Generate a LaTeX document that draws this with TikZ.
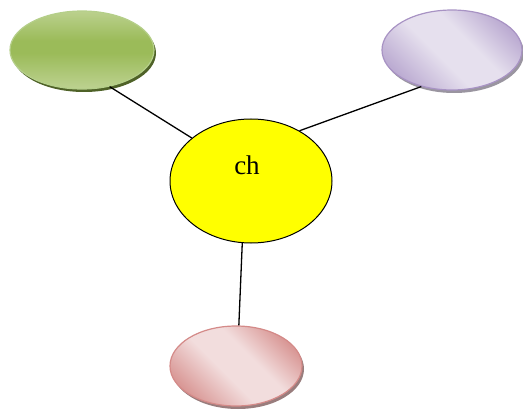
\documentclass[tikz,border=0pt]{standalone}
\usepackage{fontspec}
\setmainfont{Liberation Serif}
\usetikzlibrary{shapes.geometric,shadows}
\definecolor{gA}{HTML}{C3D69B}
\definecolor{gB}{HTML}{9BBB59}
\definecolor{gS}{HTML}{4F6228}
\definecolor{gL}{HTML}{B5CF8A}
\definecolor{pA}{HTML}{E6E0EE}
\definecolor{pB}{HTML}{BCACD2}
\definecolor{pL}{HTML}{A893C4}
\definecolor{pS}{HTML}{8F8A96}
\definecolor{rA}{HTML}{F2DDDD}
\definecolor{rB}{HTML}{D99896}
\definecolor{rL}{HTML}{D48A88}
\definecolor{rS}{HTML}{8E6F6F}
\definecolor{yel}{HTML}{FFFF00}
\pgfdeclareverticalshading{purpsh}{100bp}{color(0bp)=(pB); color(25bp)=(pB); color(42bp)=(pA); color(56bp)=(pA); color(75bp)=(pB); color(100bp)=(pB)}
\pgfdeclareverticalshading{pinksh}{100bp}{color(0bp)=(rB); color(25bp)=(rB); color(42bp)=(rA); color(56bp)=(rA); color(75bp)=(rB); color(100bp)=(rB)}
\pgfdeclareverticalshading{greensh}{100bp}{color(0bp)=(gA); color(25bp)=(gA!85!gB); color(48bp)=(gB); color(56bp)=(gB); color(75bp)=(gA!80!gB); color(100bp)=(gA)}
\tikzset{
  blob/.style={ellipse, inner sep=0pt, line width=1.2pt},
  link/.style={draw=black, line width=1.3pt},
}
\begin{document}
\begin{tikzpicture}[x=1pt,y=-1pt]
\useasboundingbox (0,0) rectangle (523,412);
% green
\node[blob, minimum width=144pt, minimum height=78pt, draw=gL,
  shading=greensh,
  drop shadow={shadow xshift=2pt, shadow yshift=-3pt, fill=gS, opacity=1}] (g) at (82,50) {};
% purple
\node[blob, minimum width=140pt, minimum height=80pt, draw=pL,
  shading=purpsh, shading angle=135,
  drop shadow={shadow xshift=2pt, shadow yshift=-3pt, fill=pS, opacity=0.9}] (p) at (452,50) {};
% pink
\node[blob, minimum width=132pt, minimum height=80pt, draw=rL,
  shading=pinksh, shading angle=135,
  drop shadow={shadow xshift=2pt, shadow yshift=-3pt, fill=rS, opacity=0.9}] (r) at (236,366) {};
% center
\node[ellipse, draw=black, line width=1pt, fill=yel, minimum width=162pt, minimum height=124pt, inner sep=0pt] (c) at (251,181) {};
\node[font=\fontsize{27}{30}\selectfont, inner sep=0pt] (t) at (247,165) {ch};
\draw[link] (g.-53.6) -- (c.144);
\draw[link] (p.230) -- (c.46);
\draw[link] (r.86) -- (c.262);
\end{tikzpicture}
\end{document}
